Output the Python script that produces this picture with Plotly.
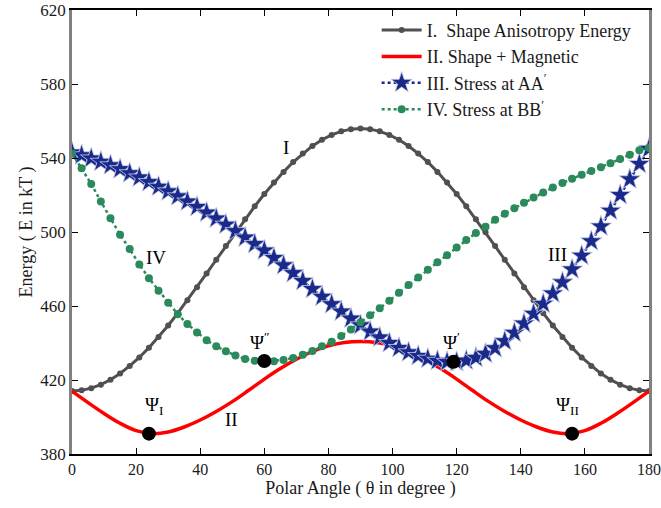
import plotly.graph_objects as go

theta = list(range(0, 181, 3))
theta_red = list(range(0, 181, 5))

shape_aniso = [414.0, 414.4, 415.6, 417.5, 420.1, 423.5, 427.6, 432.2, 437.5, 443.3, 449.5,
               456.1, 463.1, 470.2, 477.6, 485.0, 492.4, 499.8, 506.9, 513.9, 520.5,
               526.7, 532.5, 537.8, 542.4, 546.5, 549.9, 552.5, 554.4, 555.6, 556.0,
               555.6, 554.4, 552.5, 549.9, 546.5, 542.4, 537.8, 532.5, 526.7, 520.5,
               513.9, 506.9, 499.8, 492.4, 485.0, 477.6, 470.2, 463.1, 456.1, 449.5,
               443.3, 437.5, 432.2, 427.6, 423.5, 420.1, 417.5, 415.6, 414.4, 414.0]

shape_magnetic = [414.0, 407.8, 401.9, 396.6, 392.6, 391.0, 391.9, 394.6, 398.4, 403.0,
                  408.3, 414.3, 420.5, 426.2, 431.2, 435.4, 438.5, 440.3, 440.8,
                  440.3, 438.5, 435.4, 431.2, 426.2, 420.5, 414.3, 408.3, 403.0, 398.4,
                  394.6, 391.9, 391.0, 392.6, 396.6, 401.9, 407.8, 414.0]

stress_aa = [543.0, 541.5, 539.8, 538.0, 536.1, 534.0, 531.8, 529.5, 527.0, 524.5, 522.0,
             519.3, 516.5, 513.6, 510.5, 507.3, 504.0, 500.5, 497.0, 493.5, 490.0,
             486.0, 482.0, 477.8, 473.5, 469.2, 465.0, 461.0, 457.0, 453.2, 449.6,
             446.2, 443.0, 440.0, 437.3, 435.0, 433.0, 431.5, 430.4, 429.8, 429.8,
             430.5, 432.0, 434.2, 437.2, 441.0, 445.5, 450.5, 455.8, 461.2, 466.8,
             472.8, 479.8, 487.2, 495.0, 503.0, 511.5, 520.0, 528.5, 536.8, 545.0]

stress_bb = [542.5, 534.5, 526.0, 516.5, 507.5, 498.5, 490.8, 482.5, 475.0, 468.3, 461.7,
             455.5, 450.3, 445.7, 441.5, 438.2, 435.5, 433.2, 431.4, 430.4, 430.0,
             430.2, 430.8, 431.9, 433.7, 435.7, 438.2, 440.7, 443.8, 447.3, 451.2,
             455.0, 458.8, 462.8, 467.1, 471.3, 475.4, 479.6, 483.6, 487.5, 491.6,
             495.7, 499.5, 502.9, 506.6, 509.9, 512.9, 515.8, 518.6, 521.3, 524.0,
             526.5, 528.8, 530.9, 533.0, 535.0, 537.2, 539.4, 541.8, 544.2, 545.5]

min_theta = [24, 60, 119, 156]
min_energy = [391.0, 430.3, 429.8, 391.0]

series_names = ["I.  Shape Anisotropy Energy", "II. Shape + Magnetic",
                "III. Stress at AA<sup>′</sup>", "IV. Stress at BB<sup>′</sup>"]

SERIF = "Liberation Serif, Times New Roman, Times, serif"
TXT = "#1a1a1a"

fig = go.Figure()
fig.add_trace(go.Scatter(x=theta, y=shape_aniso, mode="lines+markers", name=series_names[0],
                         line=dict(color="#505050", width=3),
                         marker=dict(symbol="circle", size=6, color="#505050")))
fig.add_trace(go.Scatter(x=theta_red, y=shape_magnetic, mode="lines", name=series_names[1],
                         line=dict(color="#ff0000", width=3.5, shape="spline")))
fig.add_trace(go.Scatter(x=theta, y=stress_aa, mode="lines+markers", name=series_names[2],
                         line=dict(color="#1a2a8a", width=2.5, dash="dot"),
                         marker=dict(symbol="star", size=16, color="#1a2a8a",
                                     line=dict(color="#c8cde8", width=0.8))))
fig.add_trace(go.Scatter(x=theta, y=stress_bb, mode="lines+markers", name=series_names[3],
                         line=dict(color="#2a8a5c", width=2.5, dash="dot"),
                         marker=dict(symbol="circle", size=8, color="#2a8a5c")))
fig.add_trace(go.Scatter(x=min_theta, y=min_energy, mode="markers", showlegend=False,
                         marker=dict(symbol="circle", size=14, color="black")))

labels = [
    (66.7, 545.5, "I"),
    (26.1, 486.0, "IV"),
    (49.7, 398.5, "II"),
    (151.5, 488.0, "III"),
    (25.5, 406.0, "Ψ<sub>I</sub>"),
    (58.5, 441.0, "Ψ<sup>″</sup>"),
    (118.3, 441.0, "Ψ<sup>′</sup>"),
    (154.5, 406.0, "Ψ<sub>II</sub>"),
]
for lx, ly, lt in labels:
    fig.add_annotation(x=lx, y=ly, text=lt, showarrow=False,
                       font=dict(family=SERIF, size=19, color="black"))

fig.update_layout(
    width=661, height=508,
    margin=dict(l=72, r=12, t=10, b=54, autoexpand=False),
    paper_bgcolor="white", plot_bgcolor="white",
    font=dict(family=SERIF, size=17, color=TXT),
    legend=dict(x=0.528, y=0.996, xanchor="left", yanchor="top",
                bgcolor="rgba(255,255,255,0)", borderwidth=0,
                font=dict(family=SERIF, size=18, color=TXT),
                tracegroupgap=0, itemwidth=40),
)
fig.update_xaxes(range=[0, 180], tickvals=list(range(0, 181, 20)), automargin=False,
                 ticklabeloverflow="allow",
                 tickfont=dict(family=SERIF, size=16, color=TXT),
                 ticks="inside", ticklen=6, tickcolor="black",
                 showline=True, linecolor="black", linewidth=1.5, mirror="ticks",
                 showgrid=False, zeroline=False,
                 title=dict(text="Polar Angle ( θ in degree )", standoff=2,
                            font=dict(family=SERIF, size=18, color=TXT)))
fig.update_yaxes(range=[380, 620], tickvals=list(range(380, 621, 40)), automargin=False,
                 ticklabeloverflow="allow",
                 tickfont=dict(family=SERIF, size=17, color=TXT),
                 ticks="inside", ticklen=6, tickcolor="black",
                 showline=True, linecolor="#808080", linewidth=2.5, mirror="ticks",
                 showgrid=False, zeroline=False,
                 title=dict(text="Energy ( E in kT )", standoff=4,
                            font=dict(family=SERIF, size=18, color=TXT)))

fig.write_html("out.html")
